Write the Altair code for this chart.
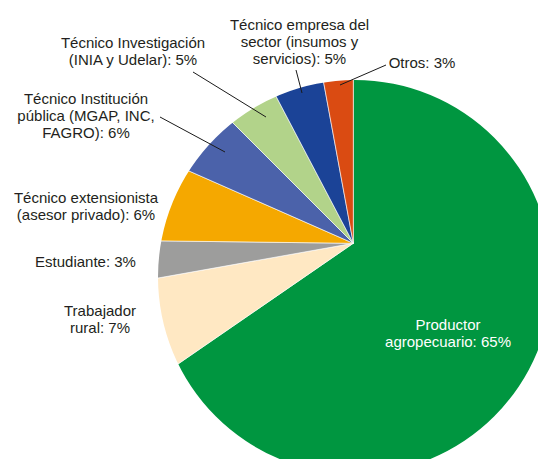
import altair as alt
import pandas as pd

# ---- data ----
categories = [
    "Productor agropecuario",
    "Trabajador rural",
    "Estudiante",
    "Técnico extensionista (asesor privado)",
    "Técnico Institución pública (MGAP, INC, FAGRO)",
    "Técnico Investigación (INIA y Udelar)",
    "Técnico empresa del sector (insumos y servicios)",
    "Otros",
]
values = [65.4, 6.8, 3.0, 6.4, 5.9, 4.8, 4.8, 2.9]
label_texts = [
    "Productor\nagropecuario: 65%",
    "Trabajador\nrural: 7%",
    "Estudiante: 3%",
    "Técnico extensionista\n(asesor privado): 6%",
    "Técnico Institución\npública (MGAP, INC,\nFAGRO): 6%",
    "Técnico Investigación\n(INIA y Udelar): 5%",
    "Técnico empresa del\nsector (insumos y\nservicios): 5%",
    "Otros: 3%",
]
colors = ["#009640", "#FFE8C3", "#9D9D9C", "#F5A800", "#4B62AA", "#B2D38A", "#1B4397", "#DA4B12"]

# ---- layout (label anchor positions in pixels, not data) ----
label_x = [440, 92, 77.5, 78, 78, 125, 291.5, 414]
label_y = [317, 303, 254, 190, 91, 35, 17, 55]
leader_x1 = [None, None, None, None, 152, 185, 288, 378]
leader_y1 = [None, None, None, None, 109, 64, 62, 57]
leader_x2 = [None, None, None, None, 217, 258, 294, 332]
leader_y2 = [None, None, None, None, 144, 109, 85, 77]

df = pd.DataFrame({"cat": categories, "value": values, "idx": list(range(len(values)))})
lab = pd.DataFrame({"cat": categories, "text": label_texts, "lx": label_x, "ly": label_y,
                    "white": [True] + [False] * 7})
lines = pd.DataFrame({"x1": leader_x1, "y1": leader_y1, "x2": leader_x2, "y2": leader_y2}).dropna()

VX, VY = 345.3, 235.3      # slice vertex
CX, CY = 347, 269          # outline circle centre
R = 197

pie = alt.Chart(df).mark_arc(outerRadius=260, stroke="white", strokeWidth=0.6).encode(
    theta=alt.Theta("value:Q", stack=True),
    order=alt.Order("idx:Q", sort="ascending"),
    color=alt.Color("cat:N", scale=alt.Scale(domain=categories, range=colors), legend=None),
    x=alt.value(VX),
    y=alt.value(VY),
)

mask = alt.Chart(pd.DataFrame({"a": [0]})).mark_arc(
    innerRadius=R, outerRadius=800, theta=0, theta2=6.2832, color="white"
).encode(x=alt.value(CX), y=alt.value(CY))

rules = alt.Chart(lines).mark_rule(color="#1a1a1a", strokeWidth=1).encode(
    x=alt.X("x1:Q", scale=None, axis=None),
    y=alt.Y("y1:Q", scale=None, axis=None),
    x2="x2:Q",
    y2="y2:Q",
)

texts = alt.Chart(lab).mark_text(
    font="Liberation Sans", fontSize=15, lineBreak="\n", lineHeight=17,
    align="center", baseline="middle",
).encode(
    x=alt.X("lx:Q", scale=None, axis=None),
    y=alt.Y("ly:Q", scale=None, axis=None),
    text="text:N",
    color=alt.condition("datum.white", alt.value("white"), alt.value("#231F20")),
)

chart = alt.layer(pie, mask, rules, texts).properties(
    width=530, height=451, padding=0, autosize="none"
).configure_view(stroke=None)

chart.save("out.html", embed_options={"renderer": "svg", "actions": False})
